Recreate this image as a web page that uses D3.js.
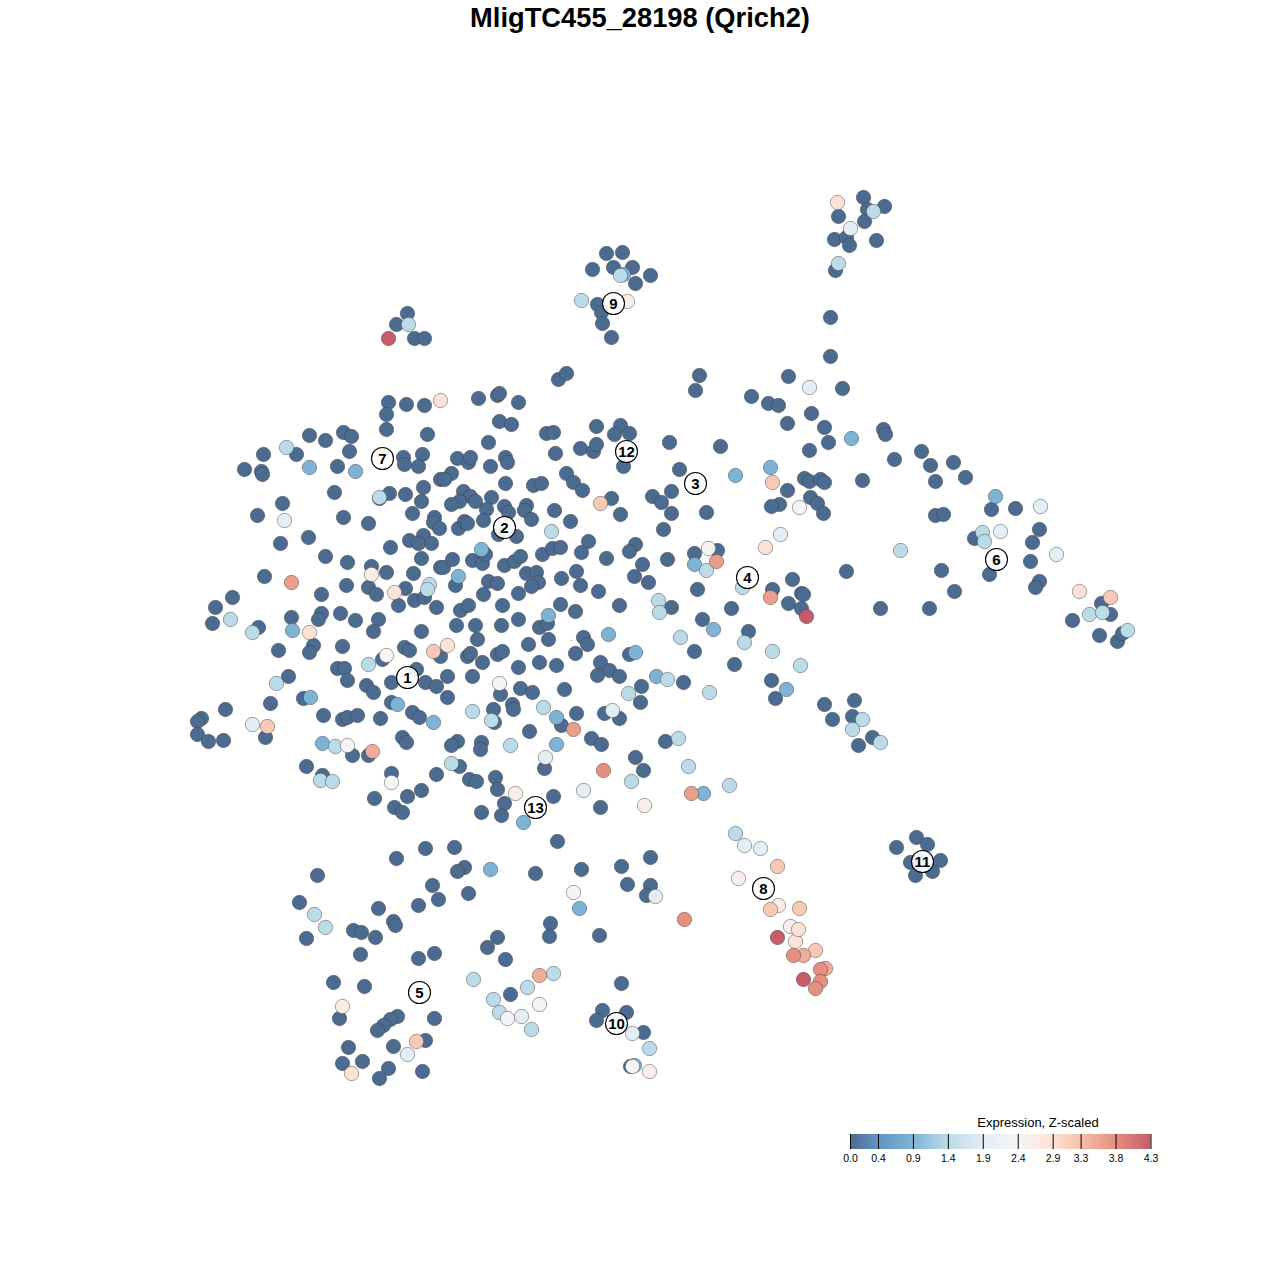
<!DOCTYPE html>
<html>
<head>
<meta charset="utf-8">
<style>html,body{margin:0;padding:0;background:#fff}svg{display:block}</style>
<script src="https://cdn.jsdelivr.net/npm/d3@7"></script>
</head>
<body>
<div id="chart"></div>
<script>
const chartTitle = "MligTC455_28198 (Qrich2)";
const legendTitle = "Expression, Z-scaled";
const legendTicks = [0.0,0.4,0.9,1.4,1.9,2.4,2.9,3.3,3.8,4.3];
const legendColors = ["#4c6b90","#6193c4","#7fb3d6","#bcdbe8","#e2edf4","#f5f5f5","#fde2d6","#f6c1a9","#e48f7f","#c75b6b"];
// Cell positions in embedding units, grouped by expression value.
const cells00 = [
[388,402],[406,404],[424,405],[386,414],[386,429],[427,434],[309,435],[325,440],[343,432],[351,436],[349,451],[263,454],[296,454],[244,469],[261,471],[262,474],[337,466],[403,457],[404,464],[422,454],[418,466],[334,492],[389,493],[379,498],[405,494],[423,487],[421,501],[412,513],[434,517],[433,522],[439,528],[440,479],[282,503],[257,515],[343,517],[368,523],[308,537],[280,543],[390,547],[409,540],[423,535],[418,543],[431,543],[421,558],[325,556],[347,562],[371,566],[386,572],[413,573],[440,567],[264,576],[346,585],[368,587],[376,594],[405,588],[321,594],[398,605],[414,600],[424,597],[436,607],[232,597],[215,607],[212,623],[258,627],[291,617],[321,613],[318,619],[340,613],[355,620],[378,619],[373,631],[421,631],
[478,398],[497,395],[499,393],[518,402],[499,421],[511,424],[488,442],[546,433],[553,432],[596,426],[620,425],[614,434],[629,433],[555,453],[580,448],[593,451],[596,444],[669,442],[623,466],[679,469],[457,458],[468,462],[470,457],[490,466],[505,457],[507,462],[505,483],[451,473],[444,479],[566,473],[573,482],[582,490],[533,485],[541,483],[611,498],[652,496],[661,502],[671,491],[671,513],[620,514],[663,529],[554,510],[570,521],[463,491],[470,496],[459,501],[451,504],[475,501],[491,497],[486,509],[483,520],[458,528],[464,521],[467,523],[504,506],[508,512],[526,505],[524,510],[531,519],[498,534],[516,536],[443,567],[452,559],[472,560],[482,563],[485,554],[504,565],[514,561],[520,556],[542,554],[552,548],[560,547],[588,541],[581,552],[606,558],[635,544],[629,551],[642,564],[667,559],[634,576],[648,582],[526,573],[536,572],[538,582],[531,586],[561,578],[576,571],[580,585],[598,591],[488,581],[497,583],[455,585],[483,594],[518,593],[460,610],[468,605],[502,605],[560,604],[575,611],[619,605],[671,607],[456,625],[475,625],[501,625],[518,619],[539,627],[547,623],
[278,650],[313,645],[309,652],[342,646],[404,647],[409,650],[382,659],[337,668],[344,668],[347,680],[288,676],[366,685],[373,692],[391,682],[416,669],[425,682],[436,686],[270,703],[303,698],[391,702],[412,712],[419,717],[323,715],[380,718],[342,719],[347,717],[357,715],[225,709],[201,718],[197,721],[197,734],[208,741],[223,740],[265,737],[352,755],[368,755],[402,737],[406,742],[306,766],[322,775],[391,773],[374,798],[407,796],[421,790],[394,807],[402,812],[436,774],
[477,639],[548,639],[528,644],[583,637],[587,644],[575,653],[467,656],[470,653],[440,656],[482,662],[497,654],[502,651],[518,667],[539,662],[556,665],[600,662],[609,670],[597,675],[619,676],[629,654],[447,676],[472,676],[447,697],[520,688],[532,692],[564,689],[500,694],[641,686],[640,702],[493,709],[512,704],[513,709],[494,722],[576,713],[604,713],[619,718],[561,725],[529,731],[591,738],[601,744],[665,741],[457,741],[451,745],[481,742],[480,749],[635,757],[643,770],[544,768],[459,766],[469,779],[476,781],[495,777],[497,789],[504,803],[553,796],[481,812],[501,815],[600,807],[557,841],
[699,375],[695,390],[788,376],[842,388],[751,396],[768,403],[778,405],[811,413],[787,423],[824,427],[828,442],[809,450],[883,429],[885,434],[894,459],[720,446],[706,512],[862,480],[804,478],[809,481],[820,479],[824,482],[787,490],[810,497],[817,503],[823,513],[779,504],[771,506],[717,550],[694,553],[846,571],[697,589],[792,579],[772,589],[801,593],[803,594],
[731,608],[788,603],[801,608],[880,608],[702,619],[748,631],[694,651],[734,664],[683,682],[771,680],[775,698],[824,704],[854,700],[852,716],[832,719],[872,737],[858,745],
[921,451],[930,465],[953,462],[935,481],[965,477],[991,509],[1015,508],[935,515],[943,514],[1039,529],[1032,542],[974,538],[1030,561],[989,574],[941,570],[1039,581],[1035,587],[954,591],[929,608],[1072,620],[1101,603],[1110,614],[1099,635],[1117,641],[1122,633],
[896,847],[916,837],[927,844],[910,862],[940,860],[932,871],[915,875],[921,861],
[396,858],[425,848],[454,847],[464,867],[457,871],[317,875],[432,885],[468,893],[438,899],[418,905],[299,902],[378,908],[393,921],[395,925],[353,930],[361,932],[375,937],[306,938],[360,954],[418,958],[434,953],[333,982],[364,986],[339,1018],[397,1016],[390,1019],[383,1025],[377,1030],[434,1018],[425,1040],[393,1046],[348,1047],[342,1063],[362,1061],[388,1068],[379,1078],[422,1071],
[535,873],[581,869],[621,866],[650,857],[627,884],[650,885],[646,895],[550,923],[549,936],[599,935],[497,937],[487,947],[505,959],[510,994],[621,983],[602,1010],[626,1012],[596,1020],[643,1032],[630,1066],
[606,253],[622,252],[592,269],[613,267],[632,267],[650,275],[635,283],[597,304],[601,312],[602,323],[611,337],
[863,197],[867,209],[884,206],[838,216],[864,221],[834,239],[846,237],[849,245],[876,240],[835,270],[830,317],[830,356],
[407,313],[396,324],[414,338],[424,338],[558,379],[566,373]
];
const cells09 = [[309,467],[355,471],[292,630],[458,576],[481,549],[548,615],[608,634],[635,652],[656,676],[433,722],[556,717],[556,744],[523,822],[310,697],[322,743],[397,704],[490,869],[579,908],[735,475],[770,467],[851,438],[694,564],[713,629],[786,689],[703,793],[995,496],[623,274],[634,1065]];
const cells14 = [[429,584],[286,447],[379,497],[230,619],[252,632],[551,531],[427,589],[658,600],[659,612],[368,664],[276,683],[335,746],[320,780],[332,781],[472,711],[491,720],[543,707],[628,693],[667,679],[510,745],[451,763],[631,781],[678,738],[680,637],[744,642],[772,651],[800,665],[709,692],[688,766],[729,785],[862,719],[852,729],[880,742],[900,550],[706,570],[742,587],[982,532],[984,541],[1089,614],[1102,612],[1127,630],[735,833],[314,914],[325,927],[473,979],[493,999],[527,987],[553,973],[499,1012],[531,1029],[649,1048],[620,275],[581,300],[873,211],[838,263],[408,324]];
const cells19 = [[284,520],[545,757],[612,710],[583,790],[809,387],[780,534],[1040,506],[1000,531],[1056,554],[744,845],[760,848],[252,724],[407,1054],[521,1016],[655,896],[632,1033],[850,228]];
const cells24 = [[386,655],[347,745],[391,782],[499,683],[799,507],[708,548],[507,1018],[539,1004],[573,892],[632,1066]];
const cells26 = [[371,574],[515,793],[644,805],[738,878],[778,905],[790,926],[342,1006],[649,1071],[627,301]];
const cells29 = [[440,400],[394,592],[309,632],[447,645],[765,547],[1079,591],[795,941],[798,929],[351,1073],[837,202]];
const cells32 = [[600,503],[772,482],[267,726],[433,651],[1110,597],[777,866],[770,909],[799,908],[815,950],[416,1041]];
const cells35 = [[372,751],[539,975],[803,955],[825,968]];
const cells365 = [[291,582],[573,729],[716,561],[770,597],[691,793]];
const cells38 = [[603,770],[684,919],[793,955],[820,969],[820,981],[815,988]];
const cells43 = [[388,338],[806,616],[777,937],[803,979]];
const clusterLabels = ["1","2","3","4","5","6","7","8","9","10","11","12","13"];
const clusterX = [407,504,695,747,419,996,382,763,613,616,922,626,535];
const clusterY = [677,527,483,577,992,559,458,888,303,1023,861,451,807];

const groups = [[0,cells00],[0.9,cells09],[1.4,cells14],[1.9,cells19],[2.4,cells24],[2.6,cells26],[2.9,cells29],[3.2,cells32],[3.5,cells35],[3.65,cells365],[3.8,cells38],[4.3,cells43]];
const cells = groups.flatMap(([z,list]) => list.map(p => ({x:p[0],y:p[1],z})));

const svg = d3.select("#chart").append("svg").attr("width",1280).attr("height",1280);
const font = "'Liberation Sans', Arial, sans-serif";
const x = d3.scaleLinear().domain([0,1280]).range([0.5,1280.5]);
const y = d3.scaleLinear().domain([0,1280]).range([0.5,1280.5]);
const color = d3.scaleLinear().domain(legendTicks).range(legendColors);

svg.append("text").attr("x",640).attr("y",27).attr("text-anchor","middle")
  .attr("font-family",font).attr("font-weight","bold").attr("font-size",27.3).attr("fill","#000").text(chartTitle);

svg.append("g").selectAll("circle").data(cells).join("circle")
  .attr("cx",d=>x(d.x)).attr("cy",d=>y(d.y)).attr("r",7.2)
  .attr("fill",d=>color(d.z)).attr("stroke","#3c3c3c").attr("stroke-opacity",0.45).attr("stroke-width",1);

const lab = svg.append("g").selectAll("g").data(clusterLabels).join("g")
  .attr("transform",(d,i)=>`translate(${x(clusterX[i])},${y(clusterY[i])})`);
lab.append("circle").attr("r",11).attr("fill","#fff").attr("fill-opacity",0.9).attr("stroke","#000").attr("stroke-width",1.1);
lab.append("text").attr("text-anchor","middle").attr("y",5.3).attr("font-family",font)
  .attr("font-weight","bold").attr("font-size",15).attr("fill","#000").text(d=>d);

// Legend
const lx = d3.scaleLinear().domain([0,4.3]).range([850,1150.5]);
const defs = svg.append("defs");
const grad = defs.append("linearGradient").attr("id","legendGrad");
legendTicks.forEach((t,i)=>grad.append("stop").attr("offset",(t/4.3*100)+"%").attr("stop-color",legendColors[i]));
const leg = svg.append("g");
leg.append("text").attr("x",1038).attr("y",1127).attr("text-anchor","middle").attr("font-family",font).attr("font-size",13).attr("fill","#000").text(legendTitle);
leg.append("rect").attr("x",lx(0)).attr("y",1134).attr("width",lx(4.3)-lx(0)).attr("height",15).attr("fill","url(#legendGrad)");
const axis = d3.axisBottom(lx).tickValues(legendTicks).tickFormat(d3.format(".1f")).tickSize(15).tickPadding(6);
const ag = leg.append("g").attr("transform","translate(0,1134)").call(axis);
ag.select(".domain").remove();
ag.selectAll("line").attr("stroke","#000").attr("stroke-width",1);
ag.selectAll("text").attr("font-family",font).attr("font-size",10.5).attr("fill","#000");

// Tiny stray speck seen in the picture
svg.append("circle").attr("cx",x(571)).attr("cy",y(640)).attr("r",0.5).attr("fill","#4c6b90");
</script>
</body>
</html>
